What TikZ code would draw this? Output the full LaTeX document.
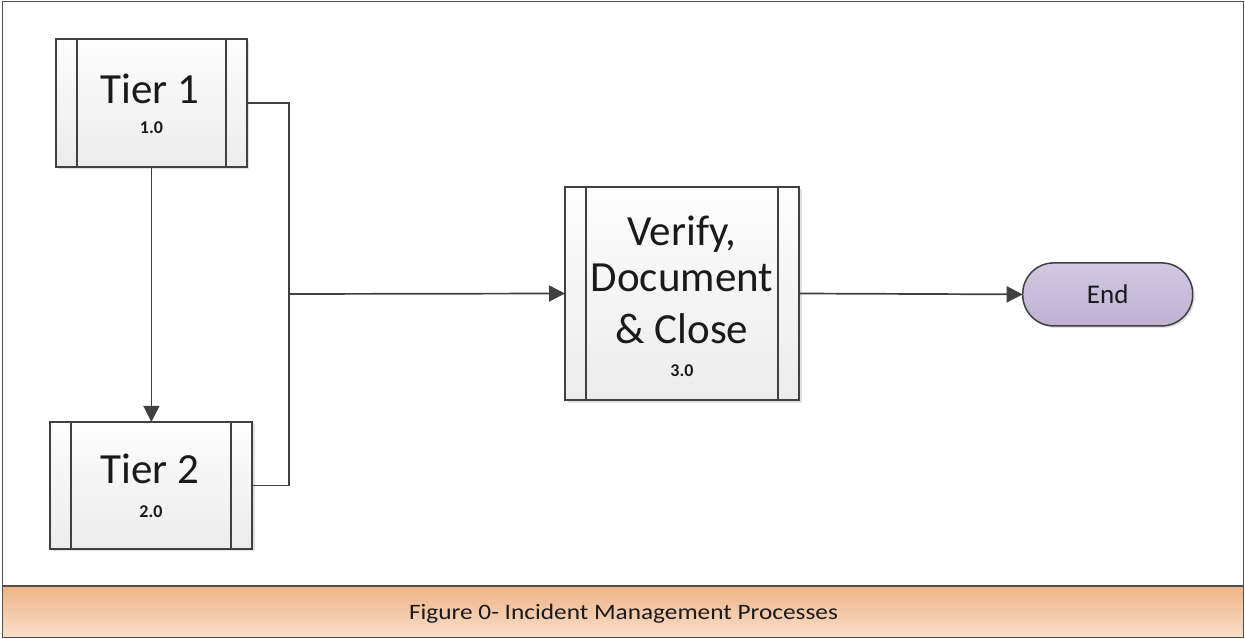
\documentclass[tikz,border=0pt]{standalone}
\usepackage{fontspec}
\setmainfont{Carlito}
\usetikzlibrary{arrows.meta,shadows,calc}
\definecolor{ln}{HTML}{404040}
\definecolor{frame}{HTML}{505050}
\definecolor{boxtop}{HTML}{FDFDFD}
\definecolor{boxbot}{HTML}{ECECEC}
\definecolor{endtop}{HTML}{D2C8E1}
\definecolor{endbot}{HTML}{BEB1D3}
\definecolor{captop}{HTML}{F9DEC8}
\definecolor{capbot}{HTML}{EEB387}
\definecolor{txt}{HTML}{1A1A1A}
\begin{document}
\begin{tikzpicture}[x=1pt,y=-1pt,
  proc/.style={draw=ln,line width=1.8pt,top color=boxtop,bottom color=boxbot,
    inner sep=0pt,outer sep=0pt,
    drop shadow={shadow xshift=2.5pt,shadow yshift=-2.5pt,opacity=0.12,fill=black}},
  bar/.style={draw=ln,line width=1.8pt},
  conn/.style={draw=ln,line width=1.7pt},
  arr/.style={conn,-{Triangle[length=16pt,width=16pt]}},
  endbox/.style={draw=ln,line width=1.5pt,rounded corners=31pt,top color=endtop,bottom color=endbot,
    minimum width=170pt,minimum height=63pt,inner sep=0pt,outer sep=0pt,text=txt,
    font=\fontsize{27}{32}\selectfont,
    drop shadow={shadow xshift=2pt,shadow yshift=-2pt,opacity=0.12,fill=black}},
  big/.style={font=\fontsize{43}{50}\selectfont,text=txt,anchor=base,inner sep=0pt},
  num/.style={font=\bfseries\fontsize{18}{20}\selectfont,text=txt,anchor=base,inner sep=0pt}]
\useasboundingbox (0,0) rectangle (1245,639);
% frame and caption band
\draw[frame,line width=1.2pt,fill=white] (2.5,1.5) rectangle (1243.5,637.5);
\shade[top color=capbot,bottom color=captop] (3,586) rectangle (1243,637);
\draw[frame,line width=1.2pt] (2.5,1.5) rectangle (1243.5,637.5);
\draw[frame,line width=2pt] (2.5,586) -- (1243.5,586);
\node[anchor=base,inner sep=0pt,text=txt,font=\fontsize{22}{26}\selectfont] (cap) at (623.5,619)
  {\scalebox{1.15}[1]{Figure 0- Incident Management Processes}};
% process boxes
\node[proc,minimum width=191pt,minimum height=128pt] (t1) at (151.4,103) {};
\node[proc,minimum width=202pt,minimum height=127pt] (t2) at (151,485.4) {};
\node[proc,minimum width=234pt,minimum height=213pt] (v) at (682,293.5) {};
\foreach \n in {t1,t2,v}{
  \draw[bar] ($(\n.north west)+(21,0)$) -- ($(\n.south west)+(21,0)$);
  \draw[bar] ($(\n.north east)+(-21,0)$) -- ($(\n.south east)+(-21,0)$);
}
\node[endbox] (e) at (1107.7,294.4) {End};
% texts
\node[big] (t1a) at (150,103.3) {Tier 1};
\node[num] (t1b) at (151.4,134) {1.0};
\node[big] (t2a) at (150,483.3) {Tier 2};
\node[num] (t2b) at (151,517) {2.0};
\node[big] (va) at (682,245) {Verify,};
\node[big] (vb) at (682,291.7) {Document};
\node[big] (vc) at (682,343.3) {\& Close};
\node[num] (vd) at (682,376.7) {3.0};
% connectors
\coordinate (jx) at (289.3,294);
\draw[arr] (t1.south) -- (t1.south |- t2.north);
\draw[conn] (t1.east) -- (jx |- t1.east) -- (jx |- t2.east) -- (t2.east);
\draw[arr] (jx) -- (v.west);
\draw[arr] (v.east) -- (e.west);
\end{tikzpicture}
\end{document}
